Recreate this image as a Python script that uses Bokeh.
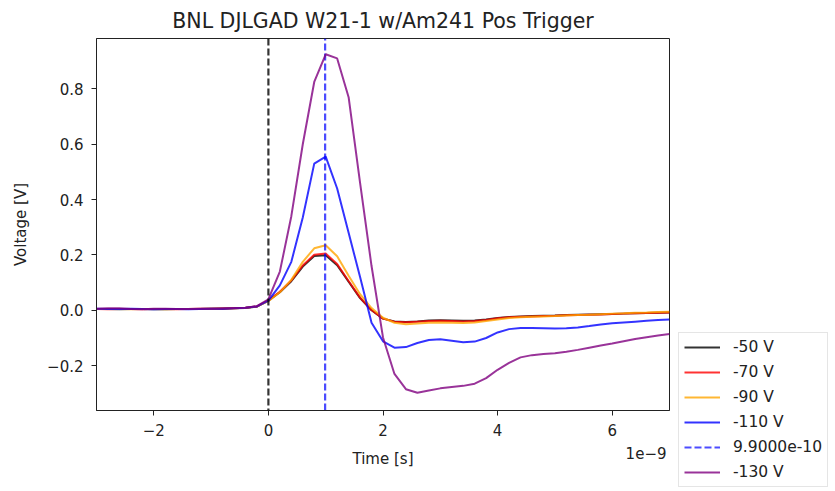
from bokeh.plotting import figure
from bokeh.models import (Range1d, FixedTicker, CustomJSTickFormatter, Span, Label,
                          Legend, LegendItem)
from bokeh.embed import file_html
from bokeh.resources import INLINE

# time in units of 1e-9 s
time_ns = [-3.0, -2.8, -2.6, -2.4, -2.2, -2.0, -1.8, -1.6, -1.4, -1.2, -1.0, -0.8, -0.6, -0.4,
           -0.2, 0.0, 0.2, 0.4, 0.6, 0.8, 1.0, 1.2, 1.4, 1.6, 1.8, 2.0, 2.2, 2.4, 2.6, 2.8,
           3.0, 3.2, 3.4, 3.6, 3.8, 4.0, 4.2, 4.4, 4.6, 4.8, 5.0, 5.2, 5.4, 5.6, 5.8, 6.0,
           6.2, 6.4, 6.6, 6.8, 7.0]

v_50 = [0.005, 0.005, 0.004, 0.005, 0.005, 0.004, 0.004, 0.005, 0.005, 0.005, 0.006, 0.006, 0.007, 0.008,
        0.013, 0.035, 0.065, 0.105, 0.158, 0.196, 0.199, 0.163, 0.103, 0.044, 0.000, -0.030, -0.040, -0.042,
        -0.040, -0.037, -0.036, -0.037, -0.038, -0.037, -0.033, -0.028, -0.024, -0.022, -0.021, -0.020,
        -0.019, -0.017, -0.016, -0.015, -0.014, -0.013, -0.012, -0.011, -0.010, -0.009, -0.008]

v_70 = [0.005, 0.004, 0.005, 0.005, 0.004, 0.005, 0.005, 0.004, 0.005, 0.006, 0.006, 0.006, 0.007, 0.009,
        0.014, 0.036, 0.067, 0.108, 0.162, 0.201, 0.205, 0.167, 0.106, 0.046, 0.001, -0.030, -0.041, -0.043,
        -0.041, -0.039, -0.038, -0.039, -0.040, -0.039, -0.035, -0.029, -0.025, -0.023, -0.022, -0.021,
        -0.020, -0.018, -0.017, -0.016, -0.015, -0.013, -0.012, -0.011, -0.010, -0.009, -0.008]

v_90 = [0.005, 0.005, 0.005, 0.004, 0.005, 0.005, 0.004, 0.005, 0.005, 0.005, 0.006, 0.007, 0.007, 0.009,
        0.014, 0.033, 0.065, 0.110, 0.175, 0.224, 0.235, 0.195, 0.125, 0.058, 0.008, -0.027, -0.045, -0.050,
        -0.048, -0.045, -0.044, -0.045, -0.046, -0.044, -0.039, -0.033, -0.028, -0.025, -0.023, -0.022,
        -0.021, -0.019, -0.017, -0.016, -0.014, -0.012, -0.011, -0.009, -0.008, -0.006, -0.005]

v_110 = [0.006, 0.005, 0.005, 0.006, 0.005, 0.004, 0.005, 0.005, 0.004, 0.005, 0.006, 0.006, 0.007, 0.009,
         0.014, 0.035, 0.090, 0.175, 0.335, 0.530, 0.555, 0.440, 0.280, 0.120, -0.045, -0.112, -0.135, -0.133,
         -0.118, -0.107, -0.105, -0.110, -0.115, -0.113, -0.100, -0.080, -0.068, -0.064, -0.064, -0.065,
         -0.066, -0.065, -0.062, -0.057, -0.051, -0.047, -0.044, -0.041, -0.038, -0.035, -0.033]

v_130 = [0.006, 0.007, 0.007, 0.005, 0.004, 0.006, 0.006, 0.005, 0.005, 0.006, 0.006, 0.007, 0.008, 0.009,
         0.015, 0.040, 0.140, 0.340, 0.600, 0.825, 0.925, 0.910, 0.770, 0.460, 0.160, -0.098, -0.230, -0.285,
         -0.298, -0.290, -0.282, -0.277, -0.273, -0.265, -0.245, -0.215, -0.190, -0.170, -0.162, -0.158,
         -0.155, -0.150, -0.143, -0.135, -0.127, -0.120, -0.112, -0.104, -0.097, -0.091, -0.086]

series_labels = ["-50 V", "-70 V", "-90 V", "-110 V", "-130 V"]
series_colors = ["black", "red", "orange", "blue", "purple"]
trigger_time_ns = 0.99
trigger_label = "9.9000e-10"
offset_text = "1e\u22129"

x_ticks = [-2, 0, 2, 4, 6]
y_ticks = [-0.2, 0.0, 0.2, 0.4, 0.6, 0.8]
x_min, x_max = -3.0, 7.0
y_min, y_max = -0.362, 0.982

FONT = "DejaVu Sans"
TXT = "#222222"

p = figure(frame_width=573, frame_height=372,
           x_range=Range1d(x_min, x_max), y_range=Range1d(y_min, y_max),
           output_backend="svg", toolbar_location=None,
           min_border_left=96, min_border_right=166, min_border_top=37, min_border_bottom=82)

p.title.text = "BNL DJLGAD W21-1 w/Am241 Pos Trigger"
p.title.align = "center"
p.title.text_font = FONT
p.title.text_font_size = "20.5px"
p.title.text_font_style = "normal"
p.title.text_color = TXT
p.title.standoff = 12

p.grid.visible = False
p.outline_line_color = TXT
p.outline_line_width = 1
p.outline_line_alpha = 1.0

for ax in (p.xaxis[0], p.yaxis[0]):
    ax.axis_line_color = TXT
    ax.major_tick_line_color = TXT
    ax.major_tick_out = 5
    ax.major_tick_in = 0
    ax.minor_tick_line_color = None
    ax.major_label_text_font = FONT
    ax.major_label_text_font_size = "15px"
    ax.major_label_text_color = TXT
    ax.axis_label_text_font = FONT
    ax.axis_label_text_font_size = "15px"
    ax.axis_label_text_font_style = "normal"
    ax.axis_label_text_color = TXT

p.xaxis.ticker = FixedTicker(ticks=x_ticks)
p.yaxis.ticker = FixedTicker(ticks=y_ticks)
p.xaxis.formatter = CustomJSTickFormatter(
    code='return tick < 0 ? "\\u2212" + String(-tick) : String(tick);')
p.yaxis.formatter = CustomJSTickFormatter(
    code='const s = Math.abs(tick).toFixed(1); return tick < -1e-9 ? "\\u2212" + s : s;')
p.xaxis.axis_label = "Time [s]"
p.yaxis.axis_label = "Voltage [V]"
p.xaxis.major_label_standoff = 8
p.yaxis.major_label_standoff = 8
p.xaxis.axis_label_standoff = 11
p.yaxis.axis_label_standoff = 14

# trigger line at t = 0
p.add_layout(Span(location=0.0, dimension="height", line_color="black", line_alpha=0.8,
                  line_width=2.2, line_dash="7 3"))

series = [v_50, v_70, v_90, v_110, v_130]
items = []
for lab, col, vals in zip(series_labels, series_colors, series):
    if lab == "-130 V":
        r = p.line([trigger_time_ns, trigger_time_ns], [y_min, y_max], line_color="blue",
                   line_alpha=0.7, line_width=2.2, line_dash="7 3")
        items.append(LegendItem(label=trigger_label, renderers=[r]))
    r = p.line(time_ns, vals, line_color=col, line_alpha=0.8, line_width=2)
    items.append(LegendItem(label=lab, renderers=[r]))

legend = Legend(items=items, location=(9, -77))
legend.label_text_font = FONT
legend.label_text_font_size = "15.5px"
legend.label_text_color = TXT
legend.glyph_width = 36
legend.glyph_height = 16
legend.label_height = 16
legend.spacing = 7
legend.padding = 5
legend.margin = 0
legend.label_standoff = 13
legend.border_line_color = "#cccccc"
legend.border_line_width = 1
legend.background_fill_alpha = 1.0
p.add_layout(legend, "right")

# offset text of the x axis (side panel, so it is not clipped to the frame)
p.add_layout(Label(x=x_max, y=y_min, x_offset=-3, y_offset=-36, text=offset_text,
                   text_align="right", text_baseline="top", text_font=FONT,
                   text_font_size="15px", text_color=TXT), "right")

open("out.html", "w").write(file_html(p, INLINE))
